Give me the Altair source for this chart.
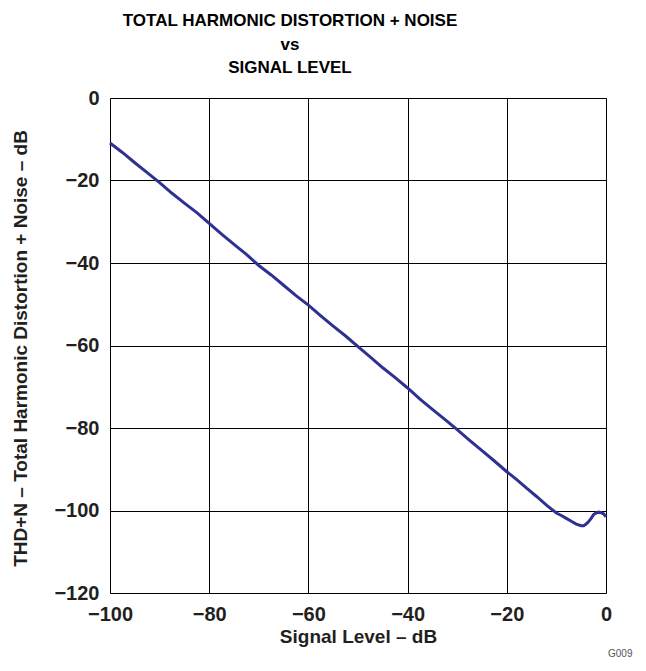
import altair as alt
import pandas as pd

signal_db = [-100, -97.5, -95, -92.5, -90, -87.5, -85, -82.5, -80, -77.5, -75, -72.5,
             -70, -67.5, -65, -62.5, -60, -57.5, -55, -52.5, -50, -47.5, -45, -42.5,
             -40, -37.5, -35, -32.5, -30, -27.5, -25, -22.5, -20, -18, -16, -14, -12,
             -10, -9, -8, -7, -6, -5, -4.5, -4, -3.5, -3, -2.5, -2, -1.5, -1, -0.5, 0]
thdn_db = [-10.9, -13.2, -15.7, -18.1, -20.5, -23.1, -25.5, -27.8, -30.4, -33.0, -35.5, -37.9,
           -40.6, -42.9, -45.4, -47.9, -50.2, -52.8, -55.3, -57.7, -60.3, -62.8, -65.4, -67.8,
           -70.3, -73.0, -75.5, -77.9, -80.4, -83.0, -85.5, -88.0, -90.6, -92.5, -94.6, -96.6, -98.7,
           -100.6, -101.2, -101.9, -102.6, -103.3, -103.7, -103.7, -103.3, -102.7, -101.9, -101.0,
           -100.6, -100.4, -100.5, -100.8, -101.5]

x_ticks = [-100, -80, -60, -40, -20, 0]
y_ticks = [0, -20, -40, -60, -80, -100, -120]

df = pd.DataFrame({"signal": signal_db, "thdn": thdn_db})

FONT = "Liberation Sans"

line = alt.Chart(df).mark_line(color="#2e3192", strokeWidth=3).encode(
    x=alt.X("signal:Q",
            scale=alt.Scale(domain=[-100, 0], nice=False, zero=False),
            axis=alt.Axis(values=x_ticks, format="d", title="Signal Level – dB",
                          grid=True, gridColor="#000000", gridWidth=1, gridOpacity=1,
                          ticks=False, domain=False,
                          labelFont=FONT, labelFontSize=20, labelFontWeight="bold",
                          labelColor="#231f20", labelPadding=11, labelFlush=False,
                          titleFont=FONT, titleFontSize=19, titleFontWeight="bold",
                          titleColor="#231f20", titleY=43, titleBaseline="middle")),
    y=alt.Y("thdn:Q",
            scale=alt.Scale(domain=[-120, 0], nice=False, zero=False),
            axis=alt.Axis(values=y_ticks, format="d",
                          title="THD+N – Total Harmonic Distortion + Noise – dB",
                          grid=True, gridColor="#000000", gridWidth=1, gridOpacity=1,
                          ticks=False, domain=False,
                          labelFont=FONT, labelFontSize=20, labelFontWeight="bold",
                          labelColor="#231f20", labelPadding=11, labelFlush=False,
                          titleFont=FONT, titleFontSize=19, titleFontWeight="bold",
                          titleColor="#231f20", titleX=-90, titleY=250,
                          titleAngle=270, titleAlign="center", titleBaseline="middle")),
)

note = alt.Chart(pd.DataFrame({"t": ["G009"]})).mark_text(
    font=FONT, fontSize=10, color="#555555", align="left", baseline="middle"
).encode(x=alt.value(498), y=alt.value(556), text="t:N")

chart = alt.layer(line, note).properties(
    width=496, height=495,
    padding={"left": 102, "top": 90, "right": 32, "bottom": 68},
    autosize=alt.AutoSizeParams(type="none"),
    title=alt.TitleParams(
        text=["TOTAL HARMONIC DISTORTION + NOISE", "vs", "SIGNAL LEVEL"],
        font=FONT, fontSize=17, fontWeight="bold", color="#000000",
        lineHeight=23.5, anchor="middle", dx=-68, offset=11),
).configure_view(stroke="#333333", strokeWidth=2).configure(
    background="white")

chart.save("out.html", embed_options={"renderer": "svg", "actions": False})
